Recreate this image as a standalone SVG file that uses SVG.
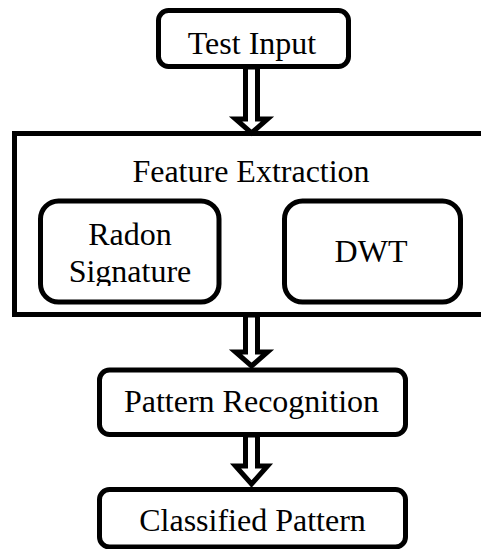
<svg xmlns="http://www.w3.org/2000/svg" width="481" height="549" viewBox="0 0 481 549">
<style>
.box{fill:#fff;stroke:#000;stroke-width:5}
.arr{fill:#fff;stroke:#000;stroke-width:5;stroke-linejoin:miter}
.t{font-family:'Liberation Serif','Times New Roman',serif;font-size:32px;fill:#000;text-anchor:middle}
</style>
<defs>
<clipPath id="clipSig"><rect x="40" y="200" width="180" height="86"/></clipPath>
</defs>
<rect width="481" height="549" fill="#fff"/>
<g id="feature-extraction">
<rect class="box" x="14.5" y="133.5" width="480" height="181"/>
<text class="t" x="251" y="182">Feature Extraction</text>
</g>
<g id="radon-signature">
<rect class="box" x="40.5" y="201" width="178.5" height="101" rx="18"/>
<text class="t" x="130" y="245">Radon</text>
<text class="t" x="130" y="282" clip-path="url(#clipSig)">Signature</text>
</g>
<g id="dwt">
<rect class="box" x="284.5" y="201" width="176" height="101" rx="18"/>
<text class="t" x="371" y="262">DWT</text>
</g>
<g id="test-input">
<rect class="box" x="158.5" y="10.5" width="190" height="56" rx="10"/>
<text class="t" x="252" y="54">Test Input</text>
</g>
<g id="pattern-recognition">
<rect class="box" x="99.5" y="370" width="306" height="64.5" rx="10"/>
<text class="t" x="251.5" y="412">Pattern Recognition</text>
</g>
<g id="classified-pattern">
<rect class="box" x="99.5" y="489.5" width="306" height="57.5" rx="10"/>
<text class="t" x="252.5" y="531">Classified Pattern</text>
</g>
<g id="connectors">
<polygon class="arr" points="245.5,67 245.5,119 235.5,119 251.5,133 267.5,119 257.5,119 257.5,67"/>
<polygon class="arr" points="245.5,315 245.5,352 235.5,352 251.5,366 267.5,352 257.5,352 257.5,315"/>
<polygon class="arr" points="245.5,435 245.5,466 235.5,466 251.5,484 267.5,466 257.5,466 257.5,435"/>
</g>
</svg>
